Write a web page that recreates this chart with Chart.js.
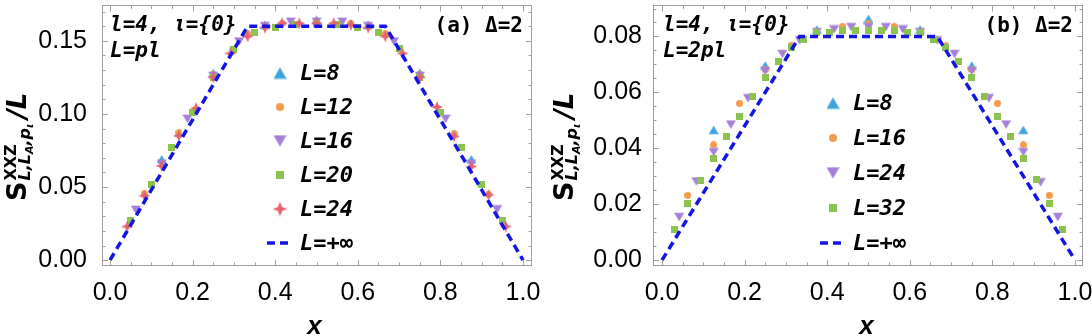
<!DOCTYPE html>
<html>
<head>
<meta charset="utf-8">
<script src="https://cdn.jsdelivr.net/npm/chart.js@4.4.1/dist/chart.umd.min.js"></script>
<style>
    html, body { margin: 0; padding: 0; background: #fff; }
    #quadro { position: relative; width: 1092px; height: 336px; }
    canvas { position: absolute; top: 0; }
</style>
</head>
<body>
<div id="quadro">
    <canvas id="graficoA" width="546" height="336" style="left:0px"></canvas>
    <canvas id="graficoB" width="546" height="336" style="left:546px"></canvas>
</div>
<script>
// ---------- Dados do painel (a): L = pl ----------
const aX8  = [0.125, 0.25, 0.375, 0.5, 0.625, 0.75, 0.875];
const aY8  = [0.069, 0.128, 0.161, 0.1644, 0.161, 0.128, 0.069];
const aX12 = [0.0833, 0.1667, 0.25, 0.3333, 0.4167, 0.5, 0.5833, 0.6667, 0.75, 0.8333, 0.9167];
const aY12 = [0.0455, 0.0872, 0.127, 0.155, 0.162, 0.163, 0.162, 0.155, 0.127, 0.0866, 0.0448];
const aX16 = [0.0625, 0.125, 0.1875, 0.25, 0.3125, 0.375, 0.4375, 0.5, 0.5625, 0.625, 0.6875, 0.75, 0.8125, 0.875, 0.9375];
const aY16 = [0.0344, 0.066, 0.0966, 0.126, 0.1495, 0.16, 0.163, 0.163, 0.163, 0.16, 0.1495, 0.126, 0.0966, 0.066, 0.0347];
const aX20 = [0.05, 0.1, 0.15, 0.2, 0.25, 0.3, 0.35, 0.4, 0.45, 0.5, 0.55, 0.6, 0.65, 0.7, 0.75, 0.8, 0.85, 0.9, 0.95];
const aY20 = [0.0273, 0.052, 0.0767, 0.101, 0.125, 0.144, 0.156, 0.159, 0.161, 0.162, 0.161, 0.159, 0.156, 0.145, 0.125, 0.101, 0.0767, 0.052, 0.0273];
const aX24 = [0.0417, 0.0833, 0.125, 0.1667, 0.2083, 0.25, 0.2917, 0.3333, 0.375, 0.4167, 0.4583, 0.5,
              0.5417, 0.5833, 0.625, 0.6667, 0.7083, 0.75, 0.7917, 0.8333, 0.875, 0.9167, 0.9583];
const aY24 = [0.023, 0.044, 0.0644, 0.085, 0.104, 0.125, 0.1414, 0.153, 0.159, 0.162, 0.162, 0.162,
              0.162, 0.161, 0.159, 0.153, 0.1414, 0.125, 0.1047, 0.0846, 0.064, 0.0448, 0.023];
const aXInf = [0, 0.3333, 0.6667, 1];
const aYInf = [0, 0.16, 0.16, 0];

// ---------- Dados do painel (b): L = 2pl ----------
const bX8  = [0.125, 0.25, 0.375, 0.5, 0.625, 0.75, 0.875];
const bY8  = [0.0466, 0.0696, 0.0825, 0.0863, 0.0825, 0.0696, 0.0466];
const bX16 = [0.0625, 0.125, 0.1875, 0.25, 0.3125, 0.375, 0.4375, 0.5, 0.5625, 0.625, 0.6875, 0.75, 0.8125, 0.875, 0.9375];
const bY16 = [0.0232, 0.0412, 0.0561, 0.0681, 0.0767, 0.0818, 0.0836, 0.0845, 0.0836, 0.0818, 0.0767, 0.0681, 0.0561, 0.0412, 0.0232];
const bX24 = [0.0417, 0.0833, 0.125, 0.1667, 0.2083, 0.25, 0.2917, 0.3333, 0.375, 0.4167, 0.4583, 0.5,
              0.5417, 0.5833, 0.625, 0.6667, 0.7083, 0.75, 0.7917, 0.8333, 0.875, 0.9167, 0.9583];
const bY24 = [0.0154, 0.0281, 0.0386, 0.0485, 0.0579, 0.0677, 0.0737, 0.0786, 0.0815, 0.0825, 0.0833, 0.0833,
              0.0833, 0.0825, 0.0815, 0.0786, 0.0737, 0.0677, 0.0579, 0.0485, 0.0386, 0.0278, 0.0154];
const bX32 = [0.03125, 0.0625, 0.09375, 0.125, 0.15625, 0.1875, 0.21875, 0.25, 0.28125, 0.3125, 0.34375, 0.375,
              0.40625, 0.4375, 0.46875, 0.5, 0.53125, 0.5625, 0.59375, 0.625, 0.65625, 0.6875, 0.71875, 0.75,
              0.78125, 0.8125, 0.84375, 0.875, 0.90625, 0.9375, 0.96875];
const bY32 = [0.0111, 0.0204, 0.0284, 0.0365, 0.0441, 0.0512, 0.0585, 0.0653, 0.0711, 0.0762, 0.0788, 0.0813,
              0.0813, 0.0821, 0.0821, 0.0821, 0.0821, 0.0821, 0.0813, 0.0813, 0.0788, 0.0762, 0.0711, 0.0653,
              0.0585, 0.0512, 0.0441, 0.0365, 0.0287, 0.0204, 0.0111];
const bXInf = [0, 0.3333, 0.6667, 1];
const bYInf = [0, 0.08, 0.08, 0];

// Cores
const corAzul = '#3fa4de';
const corLaranja = '#f29c4e';
const corRoxo = '#a57fd9';
const corVerde = '#8cc24e';
const corVermelho = '#e2636e';
const corLinha = '#1414e4';
const corMoldura = '#a0a0a0';

const fonteMono = "'DejaVu Sans Mono'";
const fonteNum = "'Liberation Sans'";
const fonteTitulo = "'DejaVu Sans'";

// Cria um marcador desenhado num canvas pequeno (usado como pointStyle)
function criarMarcador(forma, tam, cor) {
    const c = document.createElement('canvas');
    c.width = tam; c.height = tam;
    const g = c.getContext('2d');
    const m = tam / 2;
    g.fillStyle = cor;
    g.beginPath();
    if (forma === 'triCima' || forma === 'triBaixo') {
        const h = tam * 0.866;
        const s = forma === 'triCima' ? 1 : -1;
        g.moveTo(m, m - s * h / 2);
        g.lineTo(m + tam / 2, m + s * h / 2);
        g.lineTo(m - tam / 2, m + s * h / 2);
    } else if (forma === 'circulo') {
        g.arc(m, m, m, 0, Math.PI * 2);
    } else if (forma === 'quadrado') {
        g.rect(0, 0, tam, tam);
    } else if (forma === 'estrela') {
        const r = m * 0.4;
        for (let i = 0; i < 8; i++) {
            const ang = -Math.PI / 2 + i * Math.PI / 4;
            const raio = i % 2 === 0 ? m : r;
            const px = m + raio * Math.cos(ang), py = m + raio * Math.sin(ang);
            if (i === 0) g.moveTo(px, py); else g.lineTo(px, py);
        }
    }
    g.closePath();
    g.fill();
    return c;
}

const marcadores = {
    tri: criarMarcador('triCima', 10, corAzul),
    circ: criarMarcador('circulo', 7, corLaranja),
    triB: criarMarcador('triBaixo', 10, corRoxo),
    quad: criarMarcador('quadrado', 7, corVerde),
    est: criarMarcador('estrela', 12, corVermelho)
};
const marcadoresLegenda = {
    tri: criarMarcador('triCima', 13, corAzul),
    circ: criarMarcador('circulo', 8, corLaranja),
    triB: criarMarcador('triBaixo', 13, corRoxo),
    quad: criarMarcador('quadrado', 8, corVerde),
    est: criarMarcador('estrela', 15, corVermelho)
};

function pares(xs, ys) {
    return xs.map((x, i) => ({ x: x, y: ys[i] }));
}

function serie(label, xs, ys, marcador, ordem) {
    return {
        label: label,
        data: pares(xs, ys),
        pointStyle: marcador,
        pointRadius: 5,
        showLine: false,
        order: ordem
    };
}

function serieLimite(xs, ys) {
    return {
        label: 'L=+∞',
        data: pares(xs, ys),
        showLine: true,
        pointRadius: 0,
        borderColor: corLinha,
        borderWidth: 3.5,
        borderDash: [8, 5],
        fill: false,
        order: 0
    };
}

// Plugin que desenha a moldura, os tracinhos, os textos e a legenda
const pluginMoldura = {
    id: 'moldura',
    afterDraw(chart) {
        const cfg = chart.options.plugins.moldura;
        const ctx = chart.ctx;
        const a = chart.chartArea;
        const sx = chart.scales.x, sy = chart.scales.y;

        ctx.save();
        ctx.strokeStyle = corMoldura;
        ctx.lineWidth = 1;
        ctx.strokeRect(a.left + 0.5, a.top - 0.5, a.right - a.left - 1, a.bottom - a.top);

        // tracinhos em x (todos os lados)
        ctx.beginPath();
        for (let i = 0; i <= 20; i++) {
            const v = i * 0.05;
            const px = Math.round(sx.getPixelForValue(v)) + 0.5;
            const len = i % 4 === 0 ? 6 : 3.5;
            ctx.moveTo(px, a.bottom); ctx.lineTo(px, a.bottom - len);
            ctx.moveTo(px, a.top - 0.5); ctx.lineTo(px, a.top - 0.5 + len);
        }
        // tracinhos em y
        for (let i = 0; i <= cfg.nMenor; i++) {
            const v = i * cfg.passoMenor;
            const py = Math.round(sy.getPixelForValue(v)) + 0.5;
            if (py < a.top) continue;
            const len = i % cfg.razao === 0 ? 6 : 3.5;
            ctx.moveTo(a.left, py); ctx.lineTo(a.left + len, py);
            ctx.moveTo(a.right, py); ctx.lineTo(a.right - len, py);
        }
        ctx.stroke();

        // anotações
        ctx.fillStyle = '#000';
        ctx.textBaseline = 'alphabetic';
        ctx.textAlign = 'left';
        ctx.font = 'bold italic 21px ' + fonteMono;
        ctx.fillText('l=4, ι={0}', cfg.txtX, 31);
        ctx.fillText(cfg.linha2, cfg.txtX, 57);
        ctx.font = 'bold 21px ' + fonteMono;
        ctx.textAlign = 'right';
        ctx.fillText(cfg.painel, cfg.painelX, 32);

        // legenda
        ctx.textAlign = 'left';
        ctx.textBaseline = 'middle';
        ctx.font = 'bold italic 22px ' + fonteMono;
        cfg.legenda.forEach((item, i) => {
            const y = cfg.legY + i * cfg.legPasso;
            if (item.marca === 'linha') {
                ctx.save();
                ctx.strokeStyle = corLinha;
                ctx.lineWidth = 3.5;
                ctx.setLineDash([8, 5]);
                ctx.beginPath();
                ctx.moveTo(cfg.legX - 13, y); ctx.lineTo(cfg.legX + 12, y);
                ctx.stroke();
                ctx.restore();
            } else {
                const m = marcadoresLegenda[item.marca];
                ctx.drawImage(m, cfg.legX - m.width / 2, y - m.height / 2);
            }
            ctx.fillText(item.texto, cfg.legTxtX, y + 1);
        });

        // título do eixo y: S^{XXZ}_{L,L_A,p_ι}/L
        ctx.save();
        ctx.translate(cfg.tituloX, 201);
        ctx.rotate(-Math.PI / 2);
        ctx.textBaseline = 'alphabetic';
        ctx.textAlign = 'left';
        let p = 0;
        ctx.font = 'bold 27px ' + fonteTitulo;
        ctx.fillText('S', p, 0);
        p += ctx.measureText('S').width + 1;
        ctx.font = 'bold 16px ' + fonteTitulo;
        ctx.fillText('XXZ', p, -10);
        const fimSup = p + ctx.measureText('XXZ').width;
        let q = p;
        const partes = [['L,L', 16, 4], ['A', 11, 7], [',p', 16, 4], ['ι', 11, 7]];
        partes.forEach(([t, tam, d]) => {
            ctx.font = 'bold italic ' + tam + 'px ' + fonteTitulo;
            ctx.fillText(t, q, d);
            q += ctx.measureText(t).width;
        });
        p = Math.max(fimSup, q) + 5;
        ctx.font = 'bold italic 26px ' + fonteTitulo;
        ctx.fillText('/L', p, 0);
        ctx.restore();

        // título do eixo x
        ctx.textAlign = 'center';
        ctx.textBaseline = 'alphabetic';
        ctx.font = 'bold italic 26px ' + fonteNum;
        ctx.fillText('x', sx.getPixelForValue(0.5) - 2, 334);
        ctx.restore();
    }
};

function criarGrafico(idCanvas, datasets, eixoY, moldura, padDir) {
    const ctx = document.getElementById(idCanvas).getContext('2d');
    return new Chart(ctx, {
        type: 'scatter',
        data: { datasets: datasets },
        plugins: [pluginMoldura],
        options: {
            responsive: false,
            animation: false,
            events: [],
            layout: { padding: { left: 0, right: padDir, top: 1, bottom: 0 } },
            plugins: {
                legend: { display: false },
                tooltip: { enabled: false },
                moldura: moldura
            },
            scales: {
                x: {
                    type: 'linear',
                    min: eixoY.xMin, max: eixoY.xMax,
                    grid: { display: false },
                    border: { display: false },
                    ticks: {
                        stepSize: 0.2,
                        includeBounds: false,
                        autoSkip: false,
                        maxRotation: 0,
                        padding: 4,
                        color: '#000',
                        font: { family: fonteNum, size: 25 },
                        callback: v => v.toFixed(1)
                    },
                    afterFit: s => { s.height = 70; s.paddingLeft = 0; s.paddingRight = 0; }
                },
                y: {
                    type: 'linear',
                    min: eixoY.min, max: eixoY.max,
                    grid: { display: false },
                    border: { display: false },
                    ticks: {
                        stepSize: eixoY.passo,
                        includeBounds: false,
                        padding: eixoY.pad,
                        color: '#000',
                        font: { family: fonteNum, size: 25 },
                        callback: v => v.toFixed(2)
                    },
                    afterFit: s => { s.width = eixoY.largura; s.paddingTop = 0; s.paddingBottom = 0; }
                }
            }
        }
    });
}

document.addEventListener('DOMContentLoaded', () => {
    criarGrafico('graficoA', [
        serieLimite(aXInf, aYInf),
        serie('L=24', aX24, aY24, marcadores.est, 1),
        serie('L=20', aX20, aY20, marcadores.quad, 2),
        serie('L=16', aX16, aY16, marcadores.triB, 3),
        serie('L=12', aX12, aY12, marcadores.circ, 4),
        serie('L=8', aX8, aY8, marcadores.tri, 5)
    ], {
        xMin: -0.0194, xMax: 1.0218, min: -0.004, max: 0.1738, passo: 0.05, pad: 7, largura: 102
    }, {
        nMenor: 17, passoMenor: 0.01, razao: 5,
        txtX: 110, linha2: 'L=pl', painel: '(a) Δ=2', painelX: 523,
        legX: 280, legTxtX: 300, legY: 73, legPasso: 34, tituloX: 26,
        legenda: [
            { marca: 'tri', texto: 'L=8' },
            { marca: 'circ', texto: 'L=12' },
            { marca: 'triB', texto: 'L=16' },
            { marca: 'quad', texto: 'L=20' },
            { marca: 'est', texto: 'L=24' },
            { marca: 'linha', texto: 'L=+∞' }
        ]
    }, 14);

    criarGrafico('graficoB', [
        serieLimite(bXInf, bYInf),
        serie('L=32', bX32, bY32, marcadores.quad, 1),
        serie('L=24', bX24, bY24, marcadores.triB, 2),
        serie('L=16', bX16, bY16, marcadores.circ, 3),
        serie('L=8', bX8, bY8, marcadores.tri, 4)
    ], {
        xMin: -0.0218, xMax: 1.0194, min: -0.0021, max: 0.0909, passo: 0.02, pad: 3, largura: 107
    }, {
        nMenor: 18, passoMenor: 0.005, razao: 4,
        txtX: 117, linha2: 'L=2pl', painel: '(b) Δ=2', painelX: 527,
        legX: 287, legTxtX: 307, legY: 103, legPasso: 35, tituloX: 27,
        legenda: [
            { marca: 'tri', texto: 'L=8' },
            { marca: 'circ', texto: 'L=16' },
            { marca: 'triB', texto: 'L=24' },
            { marca: 'quad', texto: 'L=32' },
            { marca: 'linha', texto: 'L=+∞' }
        ]
    }, 9);
});
</script>
</body>
</html>
